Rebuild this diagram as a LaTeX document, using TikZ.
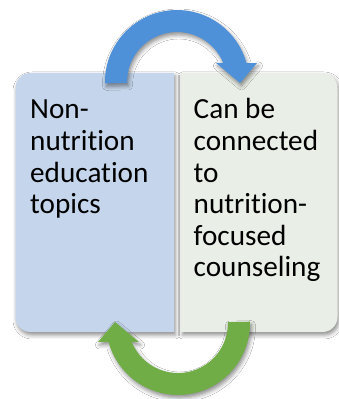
\documentclass[tikz,border=0pt]{standalone}
\usepackage{fontspec}
\setmainfont{Carlito}[Ligatures={NoCommon,NoContextual}]
\usetikzlibrary{shadows.blur}

\definecolor{leftfill}{RGB}{197,213,235}
\definecolor{rightfill}{RGB}{233,238,230}
\definecolor{arrowblue}{RGB}{78,145,217}
\definecolor{arrowgreen}{RGB}{112,173,71}

\tikzset{
  softshadow/.style={blur shadow={shadow xshift=1.5pt, shadow yshift=-3pt,
      shadow blur radius=4pt, shadow opacity=45}},
  panel/.style={softshadow},
  cyclearrow/.style={softshadow},
  txt/.style={anchor=base west, inner sep=0pt, text=black,
      font=\fontsize{29.2}{31.6}\selectfont},
}

\begin{document}
\begin{tikzpicture}[x=1pt, y=1pt]
  \useasboundingbox[fill=white] (0,0) rectangle (339,399);

  % left panel, rounded on its outer side
  \path[panel, fill=leftfill]
    (174,326) -- (30.5,326) arc[start angle=90, end angle=180, radius=15]
    -- (15.5,82) arc[start angle=180, end angle=270, radius=15]
    -- (174,67) -- cycle;

  % right panel, rounded on its outer side
  \path[panel, fill=rightfill]
    (181,326) -- (322.5,326) arc[start angle=90, end angle=0, radius=15]
    -- (337.5,82) arc[start angle=0, end angle=-90, radius=15]
    -- (181,67) -- cycle;

  % panel texts, one node per line
  \foreach \t [count=\i] in {Non-, nutrition, education, topics}
    \node[txt] (left\i) at (30, 280-31.6*\i+31.6) {\t};
  \foreach \t [count=\i] in {Can be, connected, to, nutrition-, focused, counseling}
    \node[txt] (right\i) at (193.5, 280-31.6*\i+31.6) {\t};

  % upper circular arrow (left panel -> right panel)
  \path[cyclearrow, fill=arrowblue]
    (105,315.7) arc[start angle=181, end angle=15.3, radius=72]
    -- (257,336) -- (240,316) -- (216,336) -- (223.3,336)
    arc[start angle=22.3, end angle=181, radius=50] -- cycle;

  % lower circular arrow (right panel -> left panel)
  \path[cyclearrow, fill=arrowgreen]
    (250,77.3) arc[start angle=1, end angle=-164.7, radius=72]
    -- (98,57) -- (115,77) -- (139,57) -- (131.7,57)
    arc[start angle=-157.7, end angle=1, radius=50] -- cycle;
\end{tikzpicture}
\end{document}
